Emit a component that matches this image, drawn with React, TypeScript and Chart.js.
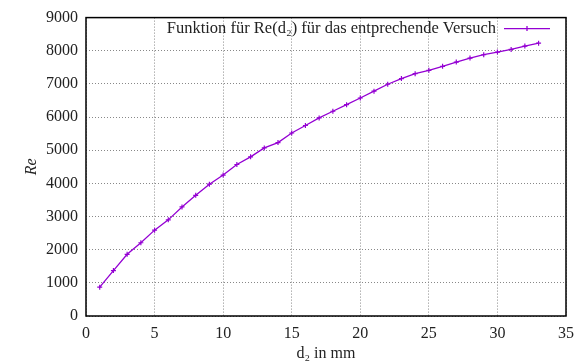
import React, { useEffect, useRef } from "react";
import { Chart, registerables } from "chart.js";

Chart.register(...registerables);

const dValues = [1, 2, 3, 4, 5, 6, 7, 8, 9, 10, 11, 12, 13, 14, 15, 16, 17, 18, 19, 20, 21, 22, 23, 24, 25, 26, 27, 28, 29, 30, 31, 32, 33];
const reValues = [870, 1370, 1860, 2210, 2590, 2900, 3290, 3640, 3975, 4250, 4570, 4800, 5070, 5230, 5520, 5745, 5975, 6175, 6375, 6575, 6780, 6990, 7160, 7310, 7410, 7530, 7660, 7780, 7880, 7960, 8040, 8140, 8230];
const seriesLabel = "Funktion für Re(d₂) für das entprechende Versuch";
const xTitle = "d₂ in mm";
const yTitle = "Re";

const FONT = "'Liberation Serif', 'DejaVu Serif', serif";
const COLOR = "#9400d3";
const TEXT = "#222";

const framePlugin = {
  id: "frame",
  afterDatasetsDraw(chart: any) {
    const { ctx, chartArea } = chart;
    ctx.save();
    ctx.strokeStyle = "#000";
    ctx.lineWidth = 1.5;
    ctx.strokeRect(chartArea.left, chartArea.top, chartArea.right - chartArea.left, chartArea.bottom - chartArea.top);
    // legend (gnuplot style: text then line sample, top right inside)
    const label = chart.data.datasets[0].label;
    const y = chartArea.top + 11;
    const lineEnd = chartArea.right - 16;
    const lineStart = lineEnd - 46;
    ctx.fillStyle = TEXT;
    ctx.font = `16.5px ${FONT}`;
    ctx.textAlign = "right";
    ctx.textBaseline = "middle";
    ctx.fillText(label, lineStart - 8, y);
    ctx.strokeStyle = COLOR;
    ctx.lineWidth = 1.3;
    ctx.beginPath();
    ctx.moveTo(lineStart, y);
    ctx.lineTo(lineEnd, y);
    const cx = (lineStart + lineEnd) / 2;
    ctx.moveTo(cx - 2.5, y);
    ctx.lineTo(cx + 2.5, y);
    ctx.moveTo(cx, y - 2.5);
    ctx.lineTo(cx, y + 2.5);
    ctx.stroke();
    ctx.restore();
  },
};

export default function App() {
  const ref = useRef<HTMLCanvasElement>(null);
  useEffect(() => {
    if (!ref.current) return;
    const chart = new Chart(ref.current, {
      type: "line",
      data: {
        datasets: [
          {
            label: seriesLabel,
            data: dValues.map((d, i) => ({ x: d, y: reValues[i] })),
            borderColor: COLOR,
            backgroundColor: COLOR,
            borderWidth: 1.3,
            pointStyle: "cross",
            pointRadius: 2.5,
            pointBorderWidth: 1.2,
            tension: 0,
          },
        ],
      },
      options: {
        animation: false,
        responsive: false,
        layout: { padding: { top: 17, right: 14, left: 0, bottom: 0 } },
        plugins: {
          legend: { display: false },
          tooltip: { enabled: false },
        },
        scales: {
          x: {
            type: "linear",
            min: 0,
            max: 35,
            ticks: { stepSize: 5, color: TEXT, font: { family: FONT, size: 16 }, padding: 8, callback: (v: any) => String(v) },
            grid: { color: "#888", drawTicks: false },
            border: { display: false, dash: [1, 2] },
            title: { display: true, text: xTitle, color: TEXT, font: { family: FONT, size: 16 }, padding: { top: 4, bottom: 0 } },
            afterFit(scale: any) {
              scale.height = 47;
            },
          },
          y: {
            type: "linear",
            min: 0,
            max: 9000,
            ticks: { stepSize: 1000, color: TEXT, font: { family: FONT, size: 16 }, padding: 8, callback: (v: any) => String(v) },
            grid: { color: "#888", drawTicks: false },
            border: { display: false, dash: [1, 2] },
            title: { display: true, text: yTitle, color: TEXT, font: { family: FONT, size: 16, style: "italic" }, padding: { top: 22, bottom: 0 } },
            afterFit(scale: any) {
              scale.width = 86;
            },
          },
        },
      },
      plugins: [framePlugin],
    });
    return () => chart.destroy();
  }, []);
  return (
    <div style={{ position: "fixed", left: 0, top: 0, width: 582, height: 363, background: "#fff" }}>
      <canvas ref={ref} width={582} height={363} />
    </div>
  );
}
